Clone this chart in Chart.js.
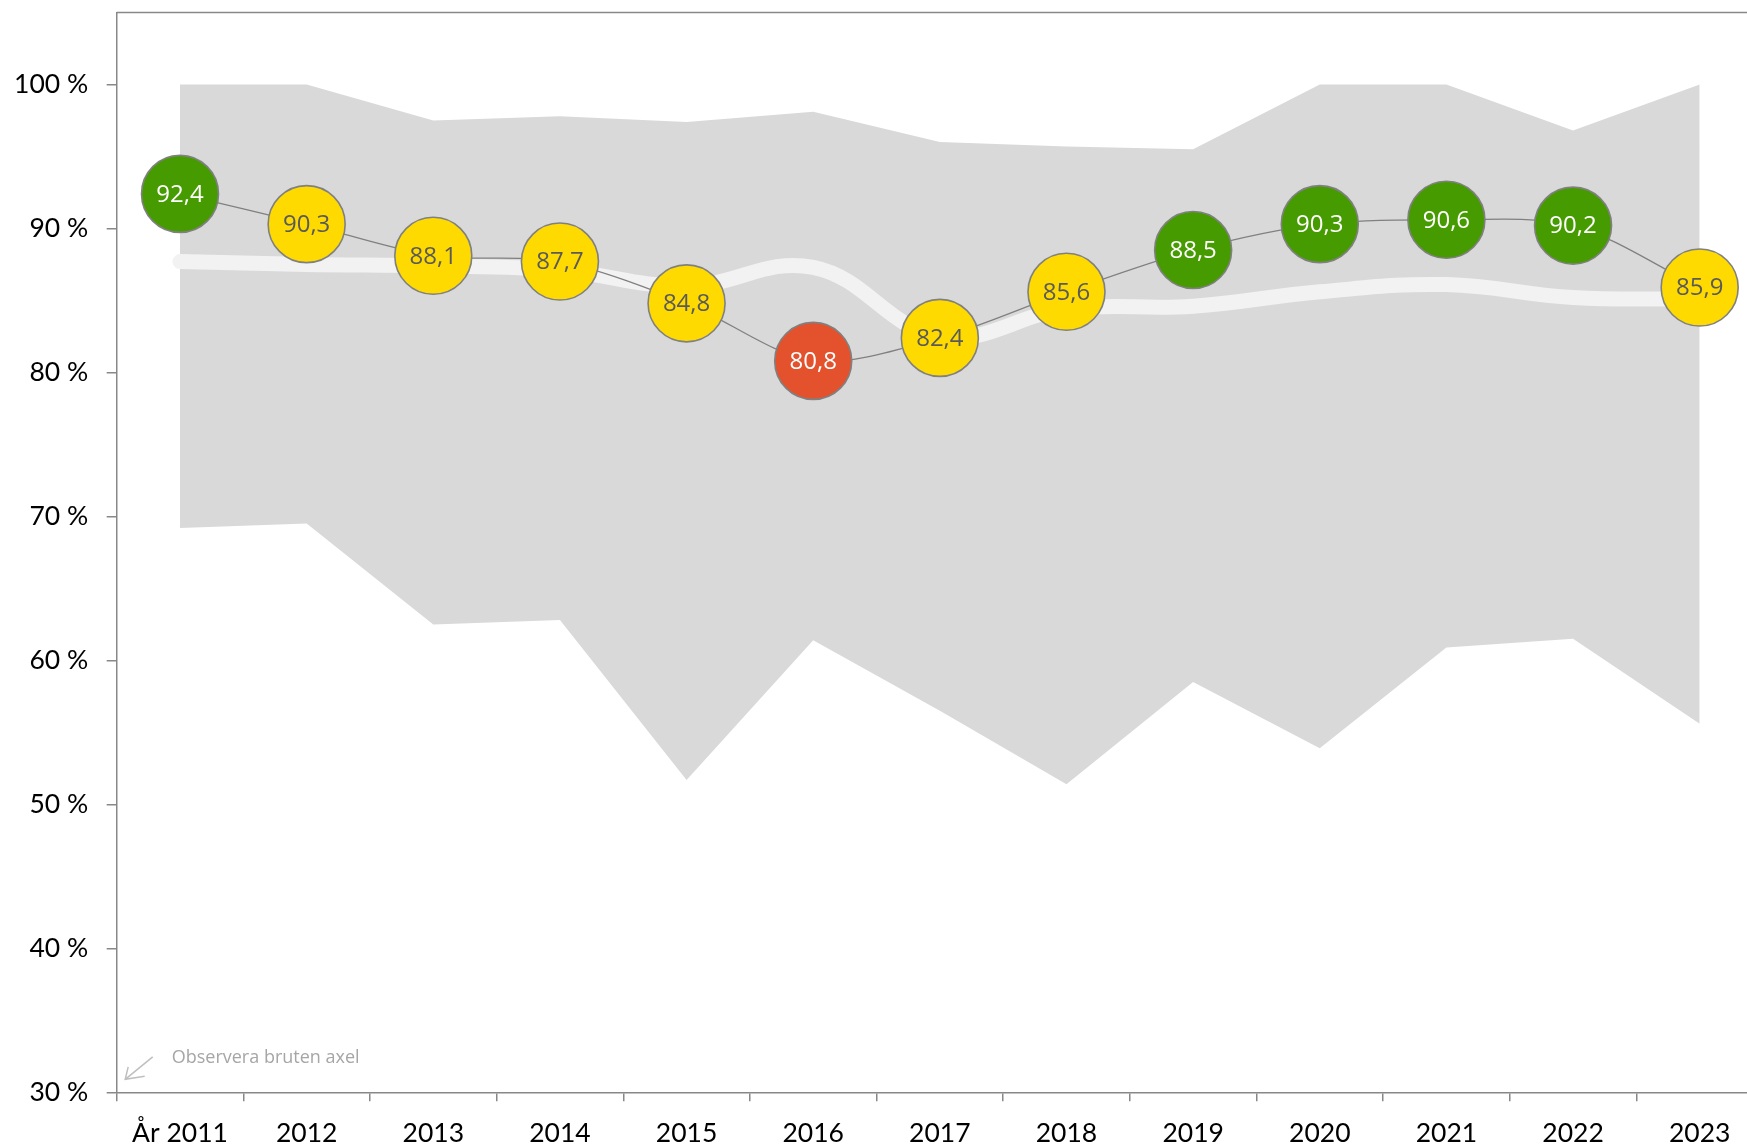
<!DOCTYPE html>
<html>
<head>
<meta charset="utf-8">
<script src="https://cdn.jsdelivr.net/npm/chart.js@4.4.0/dist/chart.umd.min.js"></script>
<style>
  html, body { margin: 0; padding: 0; background: #ffffff; overflow: hidden; width: 1747px; height: 1144px; }
  #wrap { position: absolute; left: 0; top: 0; width: 1770px; height: 1144px; }
</style>
</head>
<body>
<div id="wrap"><canvas id="c" width="1770" height="1144"></canvas></div>
<script>
// ---- data ----
const categories = ['År 2011', '2012', '2013', '2014', '2015', '2016', '2017', '2018', '2019', '2020', '2021', '2022', '2023'];
const values     = [92.4, 90.3, 88.1, 87.7, 84.8, 80.8, 82.4, 85.6, 88.5, 90.3, 90.6, 90.2, 85.9];
const levels     = ['high', 'mid', 'mid', 'mid', 'mid', 'low', 'mid', 'mid', 'high', 'high', 'high', 'high', 'mid'];
const average    = [87.7, 87.5, 87.4, 87.1, 86.0, 87.3, 82.5, 84.4, 84.6, 85.6, 86.1, 85.2, 85.1];
const rangeMax   = [100, 100, 97.5, 97.8, 97.4, 98.1, 96.0, 95.7, 95.5, 100, 100, 96.8, 100];
const rangeMin   = [69.2, 69.5, 62.5, 62.8, 51.7, 61.4, 56.5, 51.4, 58.5, 53.9, 60.9, 61.5, 55.6];
const yTicks     = [30, 40, 50, 60, 70, 80, 90, 100];
const noteText   = 'Observera bruten axel';

// ---- styles ----
const levelFill = { high: '#469B00', mid: '#FFDA00', low: '#E4512D' };
const levelText = { high: '#FFFFFF', mid: '#5A5A5A', low: '#FFFFFF' };
const axisColor = '#888888';

const fmt = v => v.toFixed(1).replace('.', ',');

const overlay = {
  id: 'overlay',
  afterDatasetsDraw(chart) {
    const ctx = chart.ctx;
    const meta = chart.getDatasetMeta(0);
    ctx.save();
    ctx.font = '24px "Open Sans"';
    ctx.textAlign = 'center';
    ctx.textBaseline = 'middle';
    meta.data.forEach((pt, i) => {
      ctx.fillStyle = levelText[levels[i]];
      ctx.fillText(fmt(values[i]), pt.x, pt.y + 1);
    });
    ctx.restore();
  },
  afterDraw(chart) {
    const ctx = chart.ctx;
    const a = chart.chartArea;
    ctx.save();
    // top border of plot area
    ctx.strokeStyle = axisColor;
    ctx.lineWidth = 1.5;
    ctx.beginPath();
    ctx.moveTo(a.left, a.top);
    ctx.lineTo(a.right, a.top);
    ctx.stroke();
    // broken axis note
    const ys = chart.scales.y;
    const baseY = ys.getPixelForValue(30);
    ctx.strokeStyle = '#BFBFBF';
    ctx.lineWidth = 1.5;
    ctx.beginPath();
    ctx.moveTo(a.left + 36, baseY - 35.5);
    ctx.lineTo(a.left + 8.5, baseY - 13);
    ctx.moveTo(a.left + 11.5, baseY - 25.5);
    ctx.lineTo(a.left + 8.5, baseY - 13);
    ctx.lineTo(a.left + 28, baseY - 16);
    ctx.stroke();
    ctx.fillStyle = '#A6A6A6';
    ctx.font = '18px "Open Sans"';
    ctx.textAlign = 'left';
    ctx.textBaseline = 'middle';
    ctx.fillText(noteText, a.left + 55, baseY - 34);
    ctx.restore();
  }
};

new Chart(document.getElementById('c'), {
  type: 'line',
  data: {
    labels: categories,
    datasets: [
      {
        label: 'Värde',
        data: values,
        borderColor: '#808080',
        borderWidth: 1.3,
        tension: 0.3,
        pointRadius: 38.5,
        pointHoverRadius: 38.5,
        pointBackgroundColor: levels.map(l => levelFill[l]),
        pointBorderColor: '#808080',
        pointBorderWidth: 1.6,
        fill: false,
        clip: false
      },
      {
        label: 'Medel',
        data: average,
        borderColor: '#F2F2F2',
        borderWidth: 15,
        borderCapStyle: 'round',
        tension: 0.4,
        pointRadius: 0,
        fill: false,
        clip: false
      },
      {
        label: 'Max',
        data: rangeMax,
        borderWidth: 0,
        borderColor: 'rgba(0,0,0,0)',
        backgroundColor: '#D9D9D9',
        pointRadius: 0,
        tension: 0,
        fill: '+1'
      },
      {
        label: 'Min',
        data: rangeMin,
        borderWidth: 0,
        borderColor: 'rgba(0,0,0,0)',
        pointRadius: 0,
        tension: 0,
        fill: false
      }
    ]
  },
  options: {
    responsive: false,
    animation: false,
    devicePixelRatio: 1,
    events: [],
    layout: { autoPadding: false, padding: { left: 0, top: 12.5, right: 7, bottom: 0 } },
    plugins: {
      legend: { display: false },
      tooltip: { enabled: false },
      title: { display: false }
    },
    scales: {
      x: {
        type: 'category',
        offset: true,
        grid: {
          display: true,
          offset: true,
          drawOnChartArea: false,
          drawTicks: true,
          tickLength: 9,
          color: axisColor,
          lineWidth: 1.5
        },
        border: { display: true, color: axisColor, width: 1.5 },
        ticks: {
          color: '#000000',
          font: { family: 'Lato', size: 26.5 },
          padding: 16.5,
          maxRotation: 0,
          autoSkip: false
        },
        afterFit(scale) {
          scale.height = 51.7;
          scale.paddingLeft = 0; scale.paddingRight = 0;
        }
      },
      y: {
        type: 'linear',
        min: 30,
        max: 105,
        grid: {
          display: true,
          drawOnChartArea: false,
          drawTicks: true,
          tickLength: 10,
          color: axisColor,
          lineWidth: 1.5
        },
        border: { display: true, color: axisColor, width: 1.5 },
        afterBuildTicks(scale) { scale.ticks = yTicks.map(v => ({ value: v })); },
        ticks: {
          color: '#000000',
          font: { family: 'Lato', size: 26.5 },
          padding: 18.5,
          callback: v => v + ' %'
        },
        afterFit(scale) {
          scale.width = 116.7;
          scale.paddingTop = 0; scale.paddingBottom = 0;
        }
      }
    }
  },
  plugins: [overlay]
});
</script>
</body>
</html>
